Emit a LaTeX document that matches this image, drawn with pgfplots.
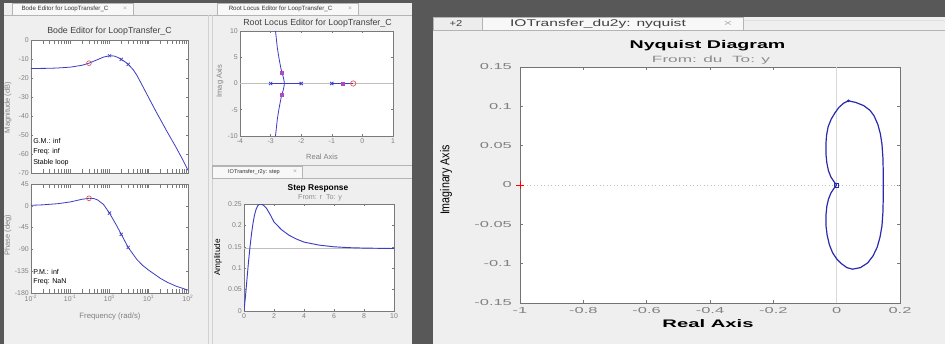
\documentclass[border=0pt]{standalone}
\usepackage{pgfplots}
\pgfplotsset{compat=1.18}
\usepackage{fontspec}
\setmainfont{Liberation Sans}
\usepackage{graphicx}
\definecolor{panel}{HTML}{EFEFEF}
\definecolor{dark}{HTML}{585858}
\definecolor{bl}{HTML}{3C3CC4}
\definecolor{nyb}{HTML}{2A2AB0}
\definecolor{tickgray}{HTML}{808080}
\definecolor{axgray}{HTML}{7A7A7A}
\definecolor{mred}{HTML}{E05555}
\definecolor{mmag}{HTML}{B048C8}
\definecolor{tabbg}{HTML}{F8F8F8}
\definecolor{tabln}{HTML}{B4B4B4}
\newcommand\fs[1]{\fontsize{#1}{#1}\selectfont}
\pgfplotsset{
 mat/.style={
  scale only axis, anchor=south west,
  axis background/.style={fill=white},
  axis line style={draw=axgray,line width=0.5pt},
  tick style={draw=axgray,line width=0.4pt},
  tick align=inside, major tick length=1.8pt,
  ticklabel style={font=\fs{5.2}, text=tickgray, inner sep=1.5pt},
  /pgf/number format/assume math mode=true,
  scaled ticks=false,
  clip mode=individual,
 }
}
\begin{document}
\begin{tikzpicture}
\begin{scope}[x=0.75pt,y=0.75pt]
% backgrounds
\fill[panel] (0,0) rectangle (945,344);
\fill[dark] (0,0) rectangle (4,344);
\fill[dark] (0,341) rectangle (412,344);
\fill[dark] (412,0) rectangle (433,344);
\fill[dark] (433,327) rectangle (945,344);
% left tabs
\draw[tabln,line width=0.4pt] (4,329) -- (412,329);
\filldraw[fill=tabbg,draw=tabln,line width=0.4pt] (12,329) -- (12,341) -- (133,341) -- (133,329);
\filldraw[fill=tabbg,draw=tabln,line width=0.4pt] (217,329) -- (217,341) -- (358,341) -- (358,329);
\draw[black!18,line width=0.5pt] (208,0) -- (208,329);
\draw[black!18,line width=0.5pt] (212,0) -- (212,329);
\draw[tabln,line width=0.4pt] (212,179) -- (412,179);
\draw[tabln,line width=0.4pt] (212,166) -- (412,166);
\filldraw[fill=tabbg,draw=tabln,line width=0.4pt] (212,166) -- (212,178) -- (302,178) -- (302,166);
% right tabs
\draw[black!12,line width=0.6pt] (433,324) -- (945,324);
\draw[tabln,line width=0.5pt] (433,314) -- (945,314);
\filldraw[fill=black!7,draw=tabln,line width=0.4pt] (433,314) -- (433,327) -- (482,327) -- (482,314);
\filldraw[fill=tabbg,draw=tabln,line width=0.4pt] (482,314) -- (482,327) -- (743,327) -- (743,314);
% anchors
\coordinate (magA) at (31,171);
\coordinate (phA) at (31,51);
\coordinate (rlA) at (240,208);
\coordinate (stA) at (244,33);
\coordinate (nyA) at (520,41);
\end{scope}

% Bode magnitude
\begin{axis}[mat, at={(magA)}, width=117.75pt, height=99.75pt,
  xmode=log, xmin=0.01, xmax=100, ymin=-70, ymax=0,
  xtick={0.01,0.1,1,10,100}, xticklabels={{},{},{},{},{}}, minor xtick={},
  ytick={-70,-60,-50,-40,-30,-20,-10,0}]
\addplot[bl, line width=0.6pt] coordinates {
(0.01,-15.0)(0.03,-14.9)(0.05,-14.7)(0.1,-14.3)(0.2,-13.3)(0.3,-12.2)
(0.5,-10.3)(0.7,-9.0)(1.0,-8.3)(1.3,-8.4)(1.6,-9.1)(2.0,-10.2)(2.5,-11.5)
(3.0,-12.8)(4.0,-15.6)(5.0,-18.6)(7.0,-24.3)(10,-30.4)(15,-37.3)(20,-42.0)
(30,-48.6)(50,-56.6)(70,-62.2)(100,-68.5)};
\addplot[only marks, mark=o, mred, mark size=1.8pt, line width=0.5pt] coordinates {(0.3,-12.2)};
\addplot[only marks, mark=x, bl, mark size=1.7pt, line width=0.5pt] coordinates {(1,-8.3)(2,-10.2)(3,-12.8)};
\end{axis}

% Bode phase
\begin{axis}[mat, at={(phA)}, width=117.75pt, height=81.75pt,
  xmode=log, xmin=0.01, xmax=100, ymin=-180, ymax=45,
  xtick={0.01,0.1,1,10,100}, minor xtick={},
  xticklabels={10\textsuperscript{-2},10\textsuperscript{-1},10\textsuperscript{0},10\textsuperscript{1},10\textsuperscript{2}},
  ytick={-180,-135,-90,-45,0,45}]
\addplot[bl, line width=0.6pt] coordinates {
(0.01,1)(0.02,2)(0.05,4.5)(0.1,8)(0.2,13.5)(0.3,15.5)(0.4,15)(0.5,12)
(0.7,3)(1.0,-15)(1.5,-40)(2.0,-59)(3.0,-86)(5.0,-111)(7.0,-123)(10,-133)
(20,-150)(30,-158)(50,-166)(100,-174)};
\addplot[only marks, mark=o, mred, mark size=1.8pt, line width=0.5pt] coordinates {(0.3,15.5)};
\addplot[only marks, mark=x, bl, mark size=1.7pt, line width=0.5pt] coordinates {(1,-15)(2,-59)(3,-86)};
\end{axis}

% Root locus
\begin{axis}[mat, at={(rlA)}, width=114.75pt, height=78.75pt,
  xmin=-4, xmax=1, ymin=-10, ymax=10,
  xtick={-4,-3,-2,-1,0,1}, ytick={-10,-5,0,5,10}]
\addplot[black!25, line width=0.4pt] coordinates {(-4,0)(1,0)};
\addplot[bl, line width=0.6pt] coordinates {(-3,0)(-2,0)};
\addplot[bl, line width=0.6pt] coordinates {(-1,0)(-0.3,0)};
\addplot[bl, line width=0.6pt] coordinates {(-2.55,0)(-2.56,0.5)(-2.58,1.1)(-2.62,1.9)(-2.66,2.8)(-2.7,4)(-2.74,5.3)(-2.78,6.8)(-2.81,8.4)(-2.84,10)};
\addplot[bl, line width=0.6pt] coordinates {(-2.55,0)(-2.56,-0.5)(-2.58,-1.1)(-2.62,-1.9)(-2.66,-2.8)(-2.7,-4)(-2.74,-5.3)(-2.78,-6.8)(-2.81,-8.4)(-2.84,-10)};
\addplot[only marks, mark=x, bl, mark size=1.7pt, line width=0.6pt] coordinates {(-3,0)(-2,0)(-1,0)};
\addplot[only marks, mark=o, mred, mark size=2pt, line width=0.5pt] coordinates {(-0.3,0)};
\addplot[only marks, mark=square*, mmag, mark size=1pt] coordinates {(-0.65,0)(-2.63,2.1)(-2.63,-2.1)};
\end{axis}

% Step response
\begin{axis}[mat, at={(stA)}, width=112.5pt, height=80.25pt,
  xmin=0, xmax=10, ymin=0, ymax=0.25,
  xtick={0,2,4,6,8,10}, ytick={0,0.05,0.1,0.15,0.2,0.25},
  yticklabel style={/pgf/number format/fixed,/pgf/number format/precision=2}]
\addplot[black!25, line width=0.4pt] coordinates {(0,0.146)(10,0.146)};
\addplot[bl, line width=0.7pt] coordinates {
(0,0)(0.1,0.035)(0.2,0.075)(0.3,0.115)(0.4,0.15)(0.5,0.18)(0.6,0.205)
(0.7,0.224)(0.8,0.237)(0.9,0.245)(1.0,0.249)(1.15,0.25)(1.3,0.247)(1.5,0.24)
(1.75,0.225)(2.0,0.208)(2.5,0.19)(3.0,0.177)(3.5,0.168)(4.0,0.161)(5.0,0.154)
(6.0,0.15)(7.0,0.148)(8.0,0.147)(10,0.146)};
\end{axis}

% Nyquist
\begin{axis}[mat, at={(nyA)}, width=285pt, height=177pt,
  xmin=-1, xmax=0.2, ymin=-0.15, ymax=0.15,
  axis line style={draw=black!55,line width=0.7pt},
  major tick length=2.5pt,
  xtick={-1,-0.8,-0.6,-0.4,-0.2,0,0.2},
  ytick={-0.15,-0.1,-0.05,0,0.05,0.1,0.15},
  ticklabel style={font=\fs{6.5}, text=tickgray, xscale=1.9},
  yticklabel style={/pgf/number format/fixed,/pgf/number format/precision=2, inner sep=3pt},
  xticklabel style={/pgf/number format/fixed, inner sep=3pt}]
\addplot[black!15, line width=0.5pt] coordinates {(0,-0.15)(0,0.15)};
\addplot[black!25, dotted, line width=0.6pt] coordinates {(-1,0)(0.2,0)};
\addplot[nyb, line width=0.9pt] coordinates {
(0,0)(-0.008,0.004)(-0.018,0.010)(-0.026,0.018)(-0.031,0.028)(-0.034,0.040)
(-0.034,0.052)(-0.032,0.063)(-0.027,0.074)(-0.017,0.084)(-0.005,0.092)
(0.008,0.099)(0.022,0.104)(0.037,0.107)(0.060,0.105)(0.085,0.101)(0.105,0.095)
(0.118,0.088)(0.130,0.077)(0.138,0.065)(0.143,0.052)(0.146,0.035)(0.147,0.018)
(0.147,0)(0.147,-0.018)(0.146,-0.035)(0.143,-0.052)(0.137,-0.066)(0.128,-0.079)
(0.115,-0.090)(0.098,-0.099)(0.075,-0.105)(0.050,-0.107)(0.032,-0.105)
(0.015,-0.100)(0.000,-0.094)(-0.013,-0.086)(-0.023,-0.076)(-0.030,-0.064)
(-0.034,-0.051)(-0.034,-0.039)(-0.031,-0.027)(-0.026,-0.018)(-0.018,-0.010)
(-0.008,-0.004)(0,0)};
\addplot[only marks, mark=square, nyb, mark size=1.5pt, line width=0.5pt] coordinates {(0,0)};
\addplot[only marks, mark=*, nyb, mark size=0.8pt] coordinates {(0.037,0.107)};
\addplot[only marks, mark=+, red, mark size=3pt, line width=0.7pt] coordinates {(-1,0)};
\end{axis}

\begin{scope}[x=0.75pt,y=0.75pt]
% tab texts
\node[font=\fs{4.6}, text=black!80] at (65,335) {Bode Editor for LoopTransfer\_C};
\node[font=\fs{5}, text=black!35] at (125,335) {×};
\node[font=\fs{4.6}, text=black!80] at (280.5,335) {Root Locus Editor for LoopTransfer\_C};
\node[font=\fs{5}, text=black!35] at (350,335) {×};
\node[font=\fs{4.2}, text=black!80] at (254,172) {IOTransfer\_r2y: step};
\node[font=\fs{5}, text=black!35] at (295,172) {×};
\node[text=black!75] at (598,320.5) {\scalebox{1.6}[1]{\fs{7.3}IOTransfer\_du2y: nyquist}};
\node[text=black!30] at (728,320.5) {\scalebox{1.6}[1]{\fs{7}×}};
\node[text=black!75] at (456,320.5) {\scalebox{1.3}[1]{\fs{6.5}+2}};
% titles
\node[font=\fs{6.6}, text=black!75] at (109.5,312.3) {Bode Editor for LoopTransfer\_C};
\node[font=\fs{6.6}, text=black!75] at (317.5,321) {Root Locus Editor for LoopTransfer\_C};
\node[font=\bfseries\fs{6.3}] at (318,156) {Step Response};
\node[font=\fs{5.4}, text=black!45] at (320,146) {From: r\ \ To: y};
% labels
\node[font=\fs{5.6}, text=black!50, rotate=90] at (8,236.5) {Magnitude (dB)};
\node[font=\fs{5.6}, text=black!50, rotate=90] at (8,109) {Phase (deg)};
\node[font=\fs{5.8}, text=black!50] at (110,27.3) {Frequency (rad/s)};
\node[font=\fs{5.6}, text=black!50, rotate=90] at (220,263) {Imag Axis};
\node[font=\fs{5.6}, text=black!50] at (322,187) {Real Axis};
\node[font=\fs{6.2}, rotate=90] at (218,86.5) {Amplitude};
% annotations
\node[font=\fs{5.3}, anchor=west, inner sep=0pt] at (33,203) {G.M.: inf};
\node[font=\fs{5.3}, anchor=west, inner sep=0pt] at (33,192) {Freq: inf};
\node[font=\fs{5.3}, anchor=west, inner sep=0pt] at (33,181) {Stable loop};
\node[font=\fs{5.3}, anchor=west, inner sep=0pt] at (33,72) {P.M.: inf};
\node[font=\fs{5.3}, anchor=west, inner sep=0pt] at (33,62) {Freq: NaN};
% nyquist texts
\node at (707.5,298.3) {\scalebox{1.75}[1]{\bfseries\fs{8.4}Nyquist Diagram}};
\node[text=black!45] at (711,284) {\scalebox{1.9}[1]{\fs{6.8}From: du\ \ To: y}};
\node at (708,20) {\scalebox{1.85}[1]{\bfseries\fs{8.2}Real Axis}};
\node[rotate=90] at (446,164) {\scalebox{1}[1.2]{\fs{8}Imaginary Axis}};
\end{scope}
\pgfresetboundingbox
\path[use as bounding box] (0,0) rectangle (708.75pt,258pt);
\end{tikzpicture}
\end{document}
